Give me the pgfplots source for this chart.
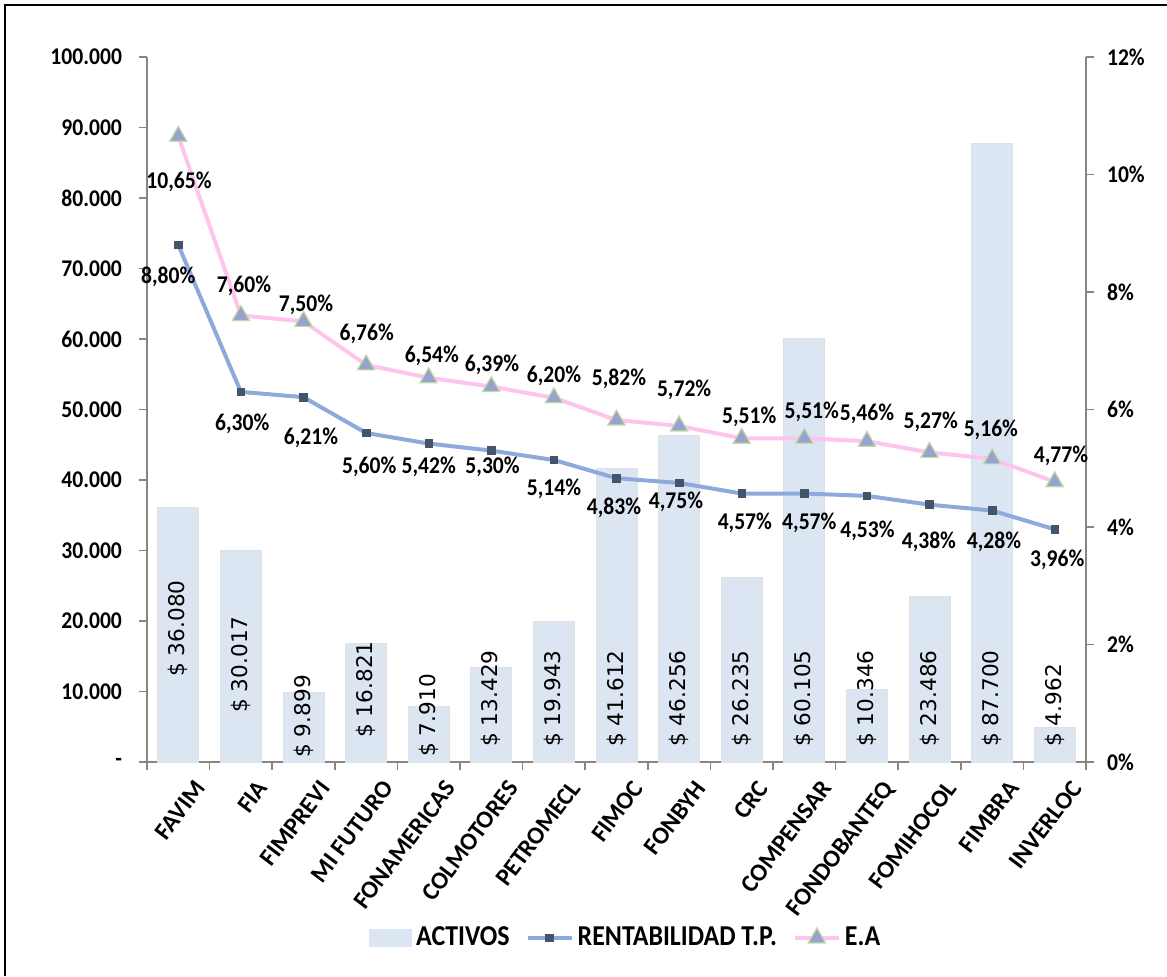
\documentclass[border=0pt]{standalone}
\usepackage{pgfplots}
\pgfplotsset{compat=1.18}
\usepackage{pgfplotstable}
\usepackage{fontspec}
\setmainfont{Carlito}[FakeStretch=0.9]
\newfontfamily\catfamily{Carlito}
\newfontfamily\barfamily{DejaVu Sans}
\definecolor{barblue}{RGB}{220,230,242}
\definecolor{rentline}{RGB}{142,169,219}
\definecolor{rentmark}{RGB}{68,84,106}
\definecolor{ealine}{RGB}{255,196,238}
\definecolor{eamark}{RGB}{152,162,206}
\definecolor{eaedge}{RGB}{196,218,164}
\definecolor{axisgray}{RGB}{134,134,134}
\newcommand\lblfont{\bfseries\fontsize{12}{14}\selectfont}
\newcommand\catfont{\catfamily\bfseries\fontsize{12.3}{14}\selectfont}
\newcommand\legfont{\bfseries\fontsize{14.4}{16}\selectfont}
\newcommand\barfont{\barfamily\fontsize{10.8}{12}\selectfont}

\pgfplotstableread{
x activos lby lbl cat
0 36080 12056 36.080 FAVIM
1 30017 6950 30.017 FIA
2 9899 567 9.899 FIMPREVI
3 16821 3404 16.821 MI~FUTURO
4 7910 709 7.910 FONAMERICAS
5 13429 2128 13.429 COLMOTORES
6 19943 2128 19.943 PETROMECL
7 41612 2128 41.612 FIMOC
8 46256 2128 46.256 FONBYH
9 26235 2128 26.235 CRC
10 60105 2128 60.105 COMPENSAR
11 10346 2128 10.346 FONDOBANTEQ
12 23486 2128 23.486 FOMIHOCOL
13 87700 2128 87.700 FIMBRA
14 4962 2128 4.962 INVERLOC
}\bardata

\pgfplotstableread{
x rent ea rlx rly rlbl elx ely elbl
0 8.80 10.65 -0.16 8.255 8,80 0.01 9.872 10,65
1 6.30 7.60 1.02 5.753 6,30 1.05 8.102 7,60
2 6.21 7.50 2.12 5.515 6,21 2.04 7.779 7,50
3 5.60 6.76 3.05 5.021 5,60 3.01 7.285 6,76
4 5.42 6.54 4.00 5.021 5,42 4.05 6.911 6,54
5 5.30 6.39 5.02 5.021 5,30 5.01 6.757 6,39
6 5.14 6.20 6.00 4.647 5,14 6.00 6.570 6,20
7 4.83 5.82 6.96 4.323 4,83 7.04 6.519 5,82
8 4.75 5.72 7.95 4.426 4,75 8.08 6.332 5,72
9 4.57 5.51 9.05 4.068 4,57 9.12 5.872 5,51
10 4.57 5.51 10.08 4.068 4,57 10.12 5.957 5,51
11 4.53 5.46 11.01 3.932 4,53 11.00 5.923 5,46
12 4.38 5.27 11.99 3.745 4,38 12.02 5.787 5,27
13 4.28 5.16 13.03 3.745 4,28 12.98 5.651 5,16
14 3.96 4.77 14.04 3.438 3,96 14.10 5.209 4,77
}\linedata

\pgfplotsset{
  base/.style={
    scale only axis, width=469.5pt, height=352.5pt,
    at={(73.5pt,107pt)}, anchor=south west,
    xmin=-0.5, xmax=14.5, clip=false,
    axis line style={axisgray, line width=0.8pt},
    tick style={axisgray, line width=0.8pt},
    tick align=outside, major tick length=4pt,
    ticklabel style={font=\lblfont, text=black},
  },
  mylinelegend/.style={legend image code/.code={\draw[mark repeat=2,mark phase=2,##1] plot coordinates {(0pt,0pt) (11pt,0pt) (22pt,0pt)};}},
  mybarlegend/.style={legend image code/.code={\fill[barblue] (0pt,-4.25pt) rectangle (21pt,4.25pt);}},
}

\begin{document}
\begin{tikzpicture}
\useasboundingbox (0,0) rectangle (583.5pt,488pt);
\draw[line width=1pt] (2.5pt,0) -- (2.5pt,485.5pt) -- (583.5pt,485.5pt);

\begin{axis}[base,
  axis y line*=left, axis x line*=bottom,
  ymin=0, ymax=100000, scaled y ticks=false,
  ytick={0,10000,20000,30000,40000,50000,60000,70000,80000,90000,100000},
  yticklabels={-,10.000,20.000,30.000,40.000,50.000,60.000,70.000,80.000,90.000,100.000},
  yticklabel style={xshift=-5pt},
  xtick={-0.5,0.5,...,14.5}, xticklabels={},
  major tick length=4pt,
]
\addplot[ybar, bar width=20.5pt, fill=barblue, draw=black!12, line width=0.4pt]
  table[x=x, y=activos] {\bardata};
\addplot[draw=none, nodes near coords={\$ \pgfplotspointmeta},
  point meta=explicit symbolic,
  nodes near coords style={rotate=90, anchor=west, inner sep=0pt, font=\barfont, text=black}]
  table[x=x, y=lby, meta=lbl] {\bardata};
\addplot[draw=none, nodes near coords={\pgfplotspointmeta},
  point meta=explicit symbolic,
  nodes near coords style={rotate=53, anchor=north east, inner sep=0pt, font=\catfont, text=black, xshift=-2pt, yshift=-11pt}]
  table[x=x, y expr=0, meta=cat] {\bardata};
\end{axis}

\begin{axis}[base,
  axis y line*=right, axis x line=none,
  ymin=0, ymax=12,
  ytick={0,2,4,6,8,10,12},
  yticklabels={0\%,2\%,4\%,6\%,8\%,10\%,12\%},
  yticklabel style={xshift=3pt},
  legend style={at={(0.511,-0.2496)}, anchor=center, draw=none, fill=none,
    legend columns=-1, font=\legfont, inner sep=0pt,
    /tikz/every even column/.append style={column sep=6pt}},
  legend cell align=left,
]
\addlegendimage{mybarlegend}
\addlegendentry{ACTIVOS}
\addplot[rentline, line width=2pt, mark=square*, mark size=1.9pt,
  mark options={fill=rentmark, draw=rentmark, line width=0.4pt}, mylinelegend]
  table[x=x, y=rent] {\linedata};
\addlegendentry{RENTABILIDAD T.P.}
\addplot[ealine, line width=2pt, mark=triangle*, mark size=5pt,
  mark options={fill=eamark, draw=eaedge, line width=0.6pt}, mylinelegend]
  table[x=x, y=ea] {\linedata};
\addlegendentry{E.A}
\addplot[draw=none, forget plot, nodes near coords={\pgfplotspointmeta\%},
  point meta=explicit symbolic,
  nodes near coords style={anchor=center, font=\lblfont, text=black, inner sep=0pt}]
  table[x=rlx, y=rly, meta=rlbl] {\linedata};
\addplot[draw=none, forget plot, nodes near coords={\pgfplotspointmeta\%},
  point meta=explicit symbolic,
  nodes near coords style={anchor=center, font=\lblfont, text=black, inner sep=0pt}]
  table[x=elx, y=ely, meta=elbl] {\linedata};
\end{axis}
\end{tikzpicture}
\end{document}
